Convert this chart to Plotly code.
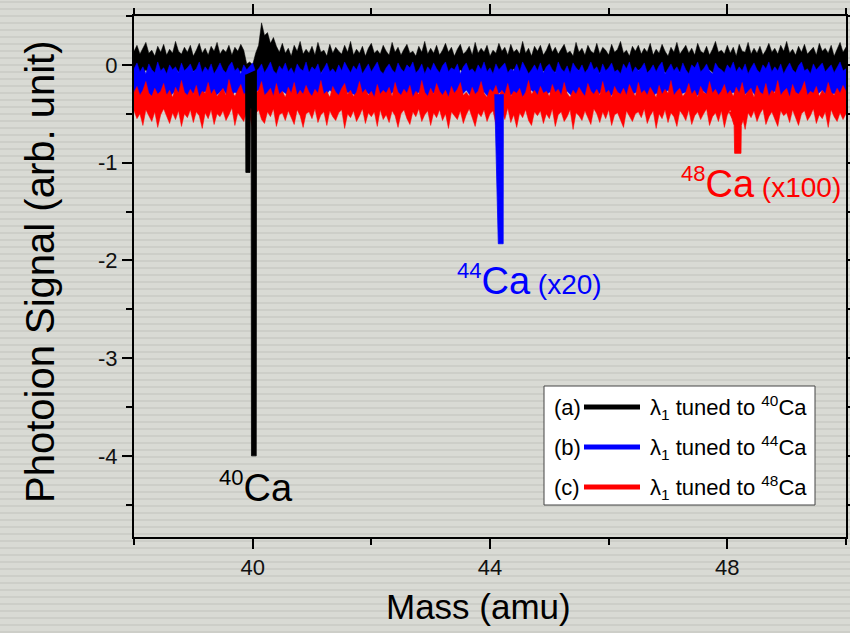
import numpy as np
import plotly.graph_objects as go

# ---------------- data ----------------
# scan grids (amu): fine grid for the visible band edges, coarse grid for hidden edges
mass_fine = np.round(np.linspace(38.0, 50.0, 241), 3).tolist()
mass_coarse = np.round(np.linspace(38.0, 50.0, 121), 3).tolist()

# (a) lambda1 tuned to 40Ca
black_upper = [0.14, 0.20, 0.11, 0.17, 0.23, 0.12, 0.15, 0.09, 0.19, 0.13,
               0.21, 0.10, 0.16, 0.12, 0.24, 0.14, 0.11, 0.18, 0.13, 0.20,
               0.09, 0.15, 0.22, 0.12, 0.17, 0.10, 0.19, 0.14, 0.23, 0.11,
               0.16, 0.13, 0.20, 0.10, 0.18, 0.14, 0.21, 0.15, 0.01, 0.03,
               0.00, 0.12, 0.20, 0.43, 0.30, 0.33, 0.22, 0.28, 0.19, 0.13,
               0.22, 0.12, 0.17, 0.09, 0.20, 0.14, 0.24, 0.11, 0.16, 0.12,
               0.19, 0.10, 0.23, 0.13, 0.15, 0.09, 0.21, 0.12, 0.18, 0.14,
               0.11, 0.20, 0.13, 0.24, 0.10, 0.16, 0.12, 0.19, 0.09, 0.17,
               0.22, 0.12, 0.15, 0.11, 0.20, 0.14, 0.10, 0.23, 0.13, 0.18,
               0.10, 0.16, 0.21, 0.12, 0.14, 0.09, 0.19, 0.13, 0.24, 0.11,
               0.17, 0.12, 0.20, 0.10, 0.15, 0.22, 0.13, 0.18, 0.09, 0.16,
               0.21, 0.11, 0.14, 0.19, 0.10, 0.23, 0.12, 0.17, 0.13, 0.20,
               0.09, 0.15, 0.12, 0.22, 0.14, 0.18, 0.10, 0.21, 0.13, 0.16,
               0.11, 0.24, 0.12, 0.17, 0.09, 0.19, 0.14, 0.20, 0.10, 0.15,
               0.22, 0.13, 0.18, 0.11, 0.16, 0.21, 0.12, 0.14, 0.09, 0.23,
               0.13, 0.17, 0.10, 0.20, 0.14, 0.12, 0.22, 0.11, 0.18, 0.15,
               0.10, 0.21, 0.13, 0.16, 0.24, 0.12, 0.15, 0.09, 0.19, 0.14,
               0.20, 0.11, 0.17, 0.13, 0.22, 0.10, 0.16, 0.12, 0.21, 0.14,
               0.09, 0.18, 0.13, 0.23, 0.11, 0.15, 0.20, 0.12, 0.17, 0.10,
               0.22, 0.14, 0.12, 0.19, 0.10, 0.16, 0.24, 0.13, 0.15, 0.11,
               0.20, 0.12, 0.18, 0.09, 0.21, 0.14, 0.13, 0.23, 0.11, 0.17,
               0.12, 0.19, 0.10, 0.15, 0.22, 0.13, 0.17, 0.11, 0.20, 0.14,
               0.24, 0.12, 0.16, 0.10, 0.19, 0.13, 0.21, 0.11, 0.15, 0.18,
               0.10, 0.22, 0.14, 0.17, 0.12, 0.20, 0.09, 0.16, 0.23, 0.13,
               0.18]
black_lower = [-0.08, -0.13, -0.05, -0.11, -0.15, -0.07, -0.12, -0.04, -0.10, -0.14,
               -0.06, -0.12, -0.09, -0.15, -0.05, -0.11, -0.08, -0.13, -0.06, -0.10,
               -0.12, -0.07, -0.14, -0.05, -0.10, -0.13, -0.08, -0.11, -0.15, -0.06,
               -0.09, -0.13, -0.04, -0.12, -0.08, -0.14, -0.07, -0.11, -0.05, -0.13,
               -0.10, -0.06, -0.15, -0.09, -0.12, -0.05, -0.11, -0.14, -0.07, -0.10,
               -0.13, -0.06, -0.12, -0.08, -0.15, -0.05, -0.10, -0.13, -0.07, -0.11,
               -0.09, -0.14, -0.06, -0.12, -0.04, -0.10, -0.13, -0.08, -0.15, -0.06,
               -0.11, -0.07, -0.13, -0.09, -0.12, -0.05, -0.14, -0.08, -0.10, -0.06,
               -0.13, -0.09, -0.15, -0.07, -0.11, -0.05, -0.12, -0.10, -0.14, -0.06,
               -0.09, -0.13, -0.07, -0.11, -0.15, -0.08, -0.12, -0.05, -0.10, -0.14,
               -0.07, -0.11, -0.06, -0.13, -0.09, -0.15, -0.08, -0.12, -0.05, -0.10,
               -0.14, -0.07, -0.12, -0.09, -0.13, -0.06, -0.11, -0.08, -0.15, -0.10,
               -0.07]
black_dip_mass = [39.88, 39.885, 39.955, 39.96, 39.975, 39.98, 40.06, 40.065]
black_dip_signal = [-0.10, -1.10, -1.10, -0.45, -0.45, -4.00, -4.00, -0.05]

# (b) lambda1 tuned to 44Ca (x20)
blue_upper = [-0.04, 0.02, -0.07, -0.02, -0.09, 0.01, -0.05, -0.08, 0.03, -0.06,
              -0.03, -0.09, 0.00, -0.05, -0.02, -0.08, 0.02, -0.06, -0.03, 0.01,
              -0.07, -0.04, 0.03, -0.08, -0.02, -0.06, 0.01, -0.09, -0.04, 0.02,
              -0.05, -0.08, -0.01, 0.03, -0.06, -0.03, -0.09, 0.00, -0.05, -0.02,
              0.02, -0.07, -0.04, 0.01, -0.08, -0.03, 0.03, -0.06, -0.09, -0.01,
              -0.05, 0.02, -0.07, -0.03, -0.09, 0.01, -0.04, -0.06, 0.03, -0.08,
              -0.02, -0.05, 0.01, -0.09, -0.03, 0.02, -0.07, -0.04, -0.08, 0.00,
              -0.06, 0.03, -0.03, -0.08, -0.01, -0.05, 0.02, -0.09, -0.04, 0.01,
              -0.07, -0.02, 0.03, -0.06, -0.09, -0.03, 0.01, -0.05, -0.08, 0.02,
              -0.04, -0.07, 0.00, -0.03, 0.03, -0.08, -0.05, 0.01, -0.09, -0.02,
              -0.06, 0.02, -0.04, -0.08, -0.01, 0.03, -0.07, -0.03, -0.05, 0.01,
              -0.09, -0.02, 0.02, -0.06, -0.04, -0.08, 0.00, -0.05, 0.03, -0.07,
              -0.03, -0.09, 0.01, -0.05, -0.02, 0.02, -0.08, -0.04, -0.06, 0.01,
              -0.07, 0.03, -0.03, -0.09, -0.05, 0.00, -0.06, 0.02, -0.08, -0.02,
              0.01, -0.05, -0.08, 0.03, -0.04, -0.07, -0.01, -0.09, 0.02, -0.03,
              -0.06, 0.00, -0.08, -0.04, 0.03, -0.05, -0.02, -0.09, 0.01, -0.06,
              -0.03, 0.02, -0.07, -0.05, -0.09, 0.01, -0.04, 0.03, -0.08, -0.02,
              -0.06, -0.03, 0.02, -0.08, -0.05, 0.00, -0.07, -0.01, 0.03, -0.09,
              -0.04, 0.01, -0.06, -0.02, -0.08, 0.02, -0.05, -0.09, 0.00, -0.03,
              0.03, -0.07, -0.04, 0.01, -0.06, -0.09, 0.02, -0.03, -0.05, -0.08,
              0.00, -0.04, 0.03, -0.07, -0.02, -0.06, 0.01, -0.09, -0.03, 0.02,
              -0.05, -0.08, 0.00, -0.04, 0.03, -0.07, -0.02, -0.06, 0.01, -0.09,
              -0.03, 0.02, -0.05, -0.08, -0.01, 0.03, -0.06, -0.04, -0.09, 0.01,
              -0.05, -0.02, 0.02, -0.07, -0.04, 0.00, -0.08, -0.03, 0.03, -0.06,
              -0.04]
blue_lower = [-0.30, -0.34, -0.27, -0.32, -0.36, -0.28, -0.33, -0.26, -0.31, -0.35,
              -0.29, -0.33, -0.27, -0.36, -0.30, -0.25, -0.34, -0.28, -0.32, -0.37,
              -0.29, -0.26, -0.33, -0.30, -0.35, -0.27, -0.31, -0.34, -0.28, -0.32,
              -0.36, -0.29, -0.33, -0.26, -0.31, -0.35, -0.28, -0.30, -0.34, -0.27,
              -0.32, -0.36, -0.29, -0.31, -0.26, -0.34, -0.30, -0.33, -0.28, -0.35,
              -0.31, -0.27, -0.33, -0.36, -0.29, -0.32, -0.26, -0.34, -0.30, -0.28,
              -0.35, -0.31, -0.27, -0.33, -0.29, -0.36, -0.30, -0.26, -0.32, -0.34,
              -0.28, -0.31, -0.35, -0.27, -0.33, -0.30, -0.36, -0.29, -0.32, -0.26,
              -0.34, -0.28, -0.31, -0.35, -0.30, -0.27, -0.33, -0.36, -0.29, -0.32,
              -0.26, -0.34, -0.30, -0.28, -0.35, -0.31, -0.27, -0.33, -0.29, -0.36,
              -0.32, -0.28, -0.34, -0.30, -0.26, -0.33, -0.31, -0.35, -0.27, -0.32,
              -0.29, -0.36, -0.30, -0.28, -0.34, -0.31, -0.26, -0.33, -0.29, -0.35,
              -0.30]
blue_dip_mass = [44.08, 44.085, 44.14, 44.222, 44.225]
blue_dip_signal = [-0.30, -0.46, -1.83, -1.83, -0.30]

# (c) lambda1 tuned to 48Ca (x100)
red_upper = [-0.28, -0.22, -0.31, -0.26, -0.17, -0.29, -0.32, -0.24, -0.30, -0.27,
             -0.19, -0.31, -0.26, -0.33, -0.23, -0.29, -0.16, -0.28, -0.31, -0.25,
             -0.30, -0.21, -0.33, -0.27, -0.29, -0.18, -0.30, -0.25, -0.32, -0.28,
             -0.24, -0.31, -0.15, -0.27, -0.32, -0.26, -0.20, -0.30, -0.28, -0.33,
             -0.22, -0.29, -0.26, -0.17, -0.31, -0.28, -0.24, -0.32, -0.19, -0.30,
             -0.27, -0.33, -0.23, -0.29, -0.18, -0.31, -0.26, -0.30, -0.21, -0.28,
             -0.32, -0.25, -0.29, -0.16, -0.30, -0.27, -0.33, -0.22, -0.28, -0.31,
             -0.24, -0.19, -0.30, -0.26, -0.32, -0.28, -0.17, -0.29, -0.25, -0.31,
             -0.27, -0.33, -0.20, -0.30, -0.26, -0.29, -0.23, -0.32, -0.18, -0.28,
             -0.31, -0.25, -0.29, -0.21, -0.33, -0.27, -0.30, -0.16, -0.28, -0.32,
             -0.24, -0.30, -0.19, -0.27, -0.31, -0.26, -0.33, -0.22, -0.29, -0.25,
             -0.18, -0.31, -0.28, -0.32, -0.23, -0.30, -0.27, -0.17, -0.29, -0.33,
             -0.25, -0.28, -0.21, -0.31, -0.26, -0.30, -0.19, -0.32, -0.27, -0.29,
             -0.24, -0.33, -0.28, -0.16, -0.30, -0.26, -0.31, -0.22, -0.29, -0.27,
             -0.32, -0.20, -0.28, -0.25, -0.31, -0.18, -0.29, -0.33, -0.26, -0.30,
             -0.23, -0.28, -0.32, -0.19, -0.27, -0.30, -0.25, -0.31, -0.17, -0.29,
             -0.26, -0.33, -0.22, -0.28, -0.30, -0.24, -0.31, -0.20, -0.27, -0.32,
             -0.18, -0.29, -0.26, -0.31, -0.23, -0.28, -0.33, -0.21, -0.30, -0.25,
             -0.29, -0.16, -0.31, -0.27, -0.24, -0.32, -0.28, -0.19, -0.30, -0.26,
             -0.33, -0.22, -0.28, -0.30, -0.17, -0.29, -0.25, -0.31, -0.27, -0.20,
             -0.30, -0.26, -0.32, -0.23, -0.29, -0.18, -0.31, -0.27, -0.24, -0.33,
             -0.21, -0.28, -0.30, -0.19, -0.32, -0.26, -0.29, -0.16, -0.31, -0.27,
             -0.24, -0.33, -0.20, -0.28, -0.30, -0.25, -0.17, -0.31, -0.27, -0.29,
             -0.22, -0.32, -0.26, -0.30, -0.18, -0.28, -0.31, -0.24, -0.29, -0.21,
             -0.27]
red_lower = [-0.47, -0.55, -0.50, -0.62, -0.46, -0.52, -0.58, -0.48, -0.64, -0.51,
             -0.45, -0.53, -0.60, -0.49, -0.56, -0.47, -0.63, -0.50, -0.54, -0.46,
             -0.59, -0.48, -0.52, -0.65, -0.49, -0.55, -0.46, -0.61, -0.50, -0.53,
             -0.47, -0.57, -0.51, -0.44, -0.62, -0.49, -0.54, -0.58, -0.47, -0.52,
             -0.66, -0.50, -0.46, -0.56, -0.60, -0.48, -0.53, -0.45, -0.63, -0.51,
             -0.49, -0.57, -0.47, -0.54, -0.61, -0.46, -0.52, -0.64, -0.50, -0.48,
             -0.55, -0.45, -0.59, -0.51, -0.48, -0.62, -0.47, -0.53, -0.57, -0.49,
             -0.46, -0.65, -0.50, -0.54, -0.47, -0.58, -0.52, -0.45, -0.60, -0.49,
             -0.53, -0.48, -0.63, -0.46, -0.56, -0.51, -0.59, -0.47, -0.52, -0.64,
             -0.50, -0.46, -0.55, -0.61, -0.48, -0.53, -0.45, -0.58, -0.51, -0.47,
             -0.62, -0.49, -0.54, -0.46, -0.57, -0.50, -0.65, -0.48, -0.52, -0.56,
             -0.47, -0.60, -0.51, -0.45, -0.55, -0.63, -0.49, -0.53, -0.46, -0.58,
             -0.50, -0.47, -0.61, -0.52, -0.48, -0.56, -0.44, -0.59, -0.51, -0.64,
             -0.49, -0.54, -0.46, -0.57, -0.62, -0.48, -0.52, -0.47, -0.60, -0.50,
             -0.55, -0.45, -0.63, -0.51, -0.48, -0.58, -0.53, -0.46, -0.66, -0.49,
             -0.52, -0.57, -0.47, -0.54, -0.61, -0.45, -0.50, -0.59, -0.48, -0.55,
             -0.46, -0.62, -0.51, -0.49, -0.56, -0.64, -0.47, -0.53, -0.58, -0.50,
             -0.48, -0.54, -0.45, -0.60, -0.52, -0.47, -0.65, -0.50, -0.55, -0.46,
             -0.59, -0.49, -0.53, -0.63, -0.47, -0.51, -0.57, -0.46, -0.61, -0.52,
             -0.48, -0.56, -0.50, -0.45, -0.62, -0.53, -0.49, -0.58, -0.47, -0.64,
             -0.51, -0.46, -0.55, -0.60, -0.48, -0.52, -0.66, -0.49, -0.54, -0.47,
             -0.58, -0.50, -0.45, -0.61, -0.53, -0.48, -0.56, -0.63, -0.47, -0.52,
             -0.49, -0.59, -0.46, -0.54, -0.62, -0.50, -0.47, -0.57, -0.52, -0.45,
             -0.60, -0.51, -0.55, -0.48, -0.64, -0.46, -0.53, -0.58, -0.49, -0.56,
             -0.50]
red_dip_mass = [48.03, 48.08, 48.115, 48.123, 48.23, 48.235, 48.27, 48.30]
red_dip_signal = [-0.48, -0.55, -0.62, -0.905, -0.905, -0.62, -0.55, -0.48]

series_names = ["(a)", "(b)", "(c)"]
legend_labels = ["λ<sub>1</sub> tuned to <sup>40</sup>Ca",
                 "λ<sub>1</sub> tuned to <sup>44</sup>Ca",
                 "λ<sub>1</sub> tuned to <sup>48</sup>Ca"]
peak_labels = ["40", "44", "48"]
peak_suffix = ["", " (x20)", " (x100)"]
peak_label_mass = [40.05, 44.66, 48.57]
peak_label_signal = [-4.32, -2.2, -1.21]
x_tick_vals = [40, 44, 48]
x_tick_text = ["40", "44", "48"]
y_tick_vals = [0, -1, -2, -3, -4]
y_tick_text = ["0", "-1", "-2", "-3", "-4"]

# ---------------- style ----------------
BLACK, BLUE, RED = "#000000", "#0000ff", "#ff0000"
colors = [BLACK, BLUE, RED]
SANS = "Liberation Sans, Arial, sans-serif"
BG = "#d9dad4"

fig = go.Figure()

def band(xu, upper, xl, lower, color):
    return go.Scatter(x=xu + xl[::-1], y=upper + lower[::-1], mode="lines",
                      fill="toself", fillcolor=color, line=dict(color=color, width=0.5),
                      hoverinfo="skip", showlegend=False)

def dip(m, s, color):
    return go.Scatter(x=m, y=s, mode="lines", fill="toself", fillcolor=color,
                      line=dict(color=color, width=0.8), hoverinfo="skip", showlegend=False)

fig.add_trace(band(mass_fine, black_upper, mass_coarse, black_lower, BLACK))
fig.add_trace(band(mass_fine, blue_upper, mass_coarse, blue_lower, BLUE))
fig.add_trace(band(mass_fine, red_upper, mass_fine, red_lower, RED))
fig.add_trace(dip(black_dip_mass, black_dip_signal, BLACK))
fig.add_trace(dip(blue_dip_mass, blue_dip_signal, BLUE))
fig.add_trace(dip(red_dip_mass, red_dip_signal, RED))

L, R, T, B = 134, 4, 16, 96
W, H = 850, 633
PH = H - T - B

def py(row):  # figure pixel row -> paper y
    return (H - B - row) / PH

def px(col):
    return (col - L) / (W - L - R)

shapes = []
# striped background
for row in range(2, H, 7):
    shapes.append(dict(type="line", xref="paper", yref="paper",
                       x0=px(0), x1=px(W), y0=py(row), y1=py(row),
                       line=dict(color="#cdcec8", width=2), layer="below"))

# legend box
shapes.append(dict(type="rect", xref="paper", yref="paper",
                   x0=px(544), x1=px(815), y0=py(505), y1=py(386),
                   fillcolor="white", line=dict(color="#444444", width=1), layer="above"))
rows = [407, 447, 487]
annotations = []
for i in range(3):
    shapes.append(dict(type="line", xref="paper", yref="paper",
                       x0=px(584), x1=px(640), y0=py(rows[i]), y1=py(rows[i]),
                       line=dict(color=colors[i], width=5), layer="above"))
    annotations.append(dict(xref="paper", yref="paper", x=px(567), y=py(rows[i]),
                            text=series_names[i], showarrow=False, xanchor="center",
                            yanchor="middle", font=dict(family=SANS, size=22, color="black")))
    annotations.append(dict(xref="paper", yref="paper", x=px(648), y=py(rows[i]),
                            text=legend_labels[i], showarrow=False, xanchor="left",
                            yanchor="middle", font=dict(family=SANS, size=22, color="black")))
    annotations.append(dict(x=peak_label_mass[i], y=peak_label_signal[i], xref="x", yref="y",
                            text="<sup><span style='font-size:22px'>" + peak_labels[i] + "</span></sup>Ca"
                                 + "<span style='font-size:28px'>" + peak_suffix[i] + "</span>",
                            showarrow=False, xanchor="center", yanchor="middle",
                            font=dict(family=SANS, size=38, color=colors[i])))

# axis titles
annotations.append(dict(xref="paper", yref="paper", x=px(478), y=py(606), text="Mass (amu)",
                        showarrow=False, xanchor="center", yanchor="middle",
                        font=dict(family=SANS, size=35, color="black")))
annotations.append(dict(xref="paper", yref="paper", x=px(40), y=py(272),
                        text="Photoion Signal (arb. unit)", textangle=-90,
                        showarrow=False, xanchor="center", yanchor="middle",
                        font=dict(family=SANS, size=40, color="black")))

axis_common = dict(showgrid=False, zeroline=False, showline=True, linecolor="black",
                   linewidth=2, mirror="ticks", ticks="outside", ticklen=10, tickwidth=1.5,
                   tickcolor="black", automargin=False,
                   tickfont=dict(family=SANS, size=22, color="#111111"))

fig.update_layout(
    width=W, height=H,
    margin=dict(l=L, r=R, t=T, b=B),
    paper_bgcolor=BG, plot_bgcolor=BG,
    showlegend=False,
    xaxis=dict(range=[38, 50], tickmode="array", tickvals=x_tick_vals, ticktext=x_tick_text,
               minor=dict(dtick=2, tick0=38, ticks="outside", ticklen=6, tickwidth=1.5, tickcolor="black"),
               **axis_common),
    yaxis=dict(range=[-4.83, 0.5], tickmode="array", tickvals=y_tick_vals, ticktext=y_tick_text,
               minor=dict(dtick=0.5, tick0=0.5, ticks="outside", ticklen=6, tickwidth=1.5, tickcolor="black"),
               **axis_common),
    shapes=shapes,
    annotations=annotations,
)

fig.write_html("out.html")
